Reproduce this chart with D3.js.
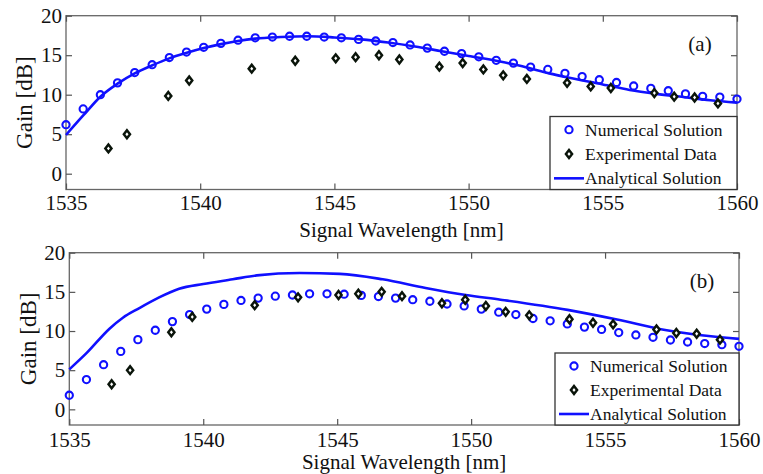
<!DOCTYPE html>
<html>
<head>
<meta charset="utf-8">
<script src="https://cdn.jsdelivr.net/npm/d3@7"></script>
<style>
  html, body { margin: 0; padding: 0; background: #fff; }
  svg { display: block; font-family: "Liberation Serif", "Times New Roman", serif; }
  .axis text { fill: #111; font-size: 21px; font-family: "Liberation Serif", "Times New Roman", serif; }
  .axis line { stroke: #555; stroke-width: 1.2; }
  .axis path { display: none; }
</style>
</head>
<body>
<svg id="chart" width="763" height="474"></svg>
<script>
"use strict";

// ── Data ────────────────────────────────────────────────────────────────────
const xTicks = [1535, 1540, 1545, 1550, 1555, 1560];
const yTicks = [0, 5, 10, 15, 20];

// numerical solution sample wavelengths (shared by both panels)
const numWavelength = [1535, 1535.64, 1536.28, 1536.92, 1537.56, 1538.21, 1538.85, 1539.49,
  1540.13, 1540.77, 1541.41, 1542.05, 1542.69, 1543.33, 1543.97, 1544.62, 1545.26, 1545.90,
  1546.54, 1547.18, 1547.82, 1548.46, 1549.10, 1549.74, 1550.38, 1551.03, 1551.67, 1552.31,
  1552.95, 1553.59, 1554.23, 1554.87, 1555.51, 1556.15, 1556.79, 1557.44, 1558.08, 1558.72,
  1559.36, 1560];
const numGainA = [6.2, 8.2, 10.0, 11.5, 12.8, 13.8, 14.7, 15.4, 16.0, 16.5, 16.9, 17.2, 17.3,
  17.4, 17.4, 17.3, 17.2, 17.0, 16.8, 16.6, 16.3, 15.9, 15.5, 15.2, 14.8, 14.35, 14.0, 13.5,
  13.2, 12.7, 12.3, 11.9, 11.55, 11.1, 10.8, 10.5, 10.1, 9.8, 9.7, 9.45];
const numGainB = [1.8, 3.8, 5.7, 7.4, 8.9, 10.1, 11.2, 12.1, 12.8, 13.4, 13.9, 14.2, 14.45,
  14.6, 14.75, 14.75, 14.7, 14.55, 14.4, 14.2, 14.0, 13.8, 13.45, 13.2, 12.8, 12.4, 12.1, 11.6,
  11.3, 10.9, 10.5, 10.2, 9.8, 9.5, 9.2, 8.85, 8.6, 8.4, 8.25, 8.05];

// experimental data
const expWavelength = [1536.58, 1537.27, 1538.81, 1539.59, 1541.92, 1543.54, 1545.05, 1545.79,
  1546.66, 1547.42, 1548.91, 1549.78, 1550.55, 1551.29, 1552.17, 1553.67, 1554.55, 1555.3,
  1556.92, 1557.66, 1558.42, 1559.29];
const expGain = [3.2, 5.0, 9.85, 11.8, 13.3, 14.3, 14.6, 14.75, 15.0, 14.45, 13.55, 14.0, 13.2,
  12.45, 12.0, 11.5, 11.05, 10.85, 10.2, 9.75, 9.65, 8.9];

// analytical solution
const anaWavelengthA = [1535, 1535.65, 1536.28, 1536.92, 1537.56, 1538.2, 1538.85, 1539.5,
  1540.13, 1540.77, 1541.4, 1542.05, 1543, 1544, 1545, 1546, 1547, 1548, 1549, 1550, 1551.17,
  1552, 1553, 1553.65, 1555, 1556, 1557, 1558, 1559, 1560];
const anaGainA = [4.9, 7.4, 9.75, 11.4, 12.7, 13.7, 14.6, 15.3, 15.9, 16.4, 16.8, 17.1, 17.3,
  17.4, 17.25, 17.0, 16.6, 16.1, 15.5, 14.9, 14.2, 13.6, 12.7, 12.2, 11.3, 10.6, 10.1, 9.7,
  9.3, 9.0];
const anaWavelengthB = [1535, 1535.65, 1536.5, 1537, 1537.6, 1538.3, 1539.1, 1540, 1541.1,
  1542, 1543.6, 1545.1, 1546.7, 1548.3, 1549.8, 1551.1, 1553.6, 1555.4, 1557.3, 1558.5, 1560];
const anaGainB = [5.1, 7.2, 10.3, 11.7, 12.9, 14.2, 15.4, 16.0, 16.6, 17.1, 17.4, 17.3, 16.6,
  15.5, 14.6, 14.0, 12.7, 11.5, 10.1, 9.5, 9.0];

const legendLabels = ["Numerical Solution", "Experimental Data", "Analytical Solution"];

const BLUE = "#1010ff";
const SERIF = "'Liberation Serif', 'Times New Roman', serif";

const svg = d3.select("#chart");

// ── Panel ────────────────────────────────────────────────────────────────────
function drawPanel(opt) {
  const { left, right, top, bottom } = opt;
  const W = right - left, H = bottom - top;

  const x = d3.scaleLinear().domain([1535, 1560]).range([0, W]);
  const y = d3.scaleLinear().domain([-2, 20]).range([H, 0]);

  const g = svg.append("g").attr("transform", `translate(${left},${top})`);

  // box
  g.append("rect")
    .attr("width", W).attr("height", H)
    .attr("fill", "none").attr("stroke", "#666").attr("stroke-width", 1.3);

  // axes, ticks pointing inward
  g.append("g").attr("class", "axis").attr("transform", `translate(0,${H})`)
    .call(d3.axisBottom(x).tickValues(xTicks).tickSize(-6).tickPadding(opt.xPad).tickFormat(d3.format("d")))
    .attr("font-family", SERIF);
  g.append("g").attr("class", "axis")
    .call(d3.axisTop(x).tickValues(xTicks).tickSize(-6).tickFormat(""));
  g.append("g").attr("class", "axis")
    .call(d3.axisLeft(y).tickValues(yTicks).tickSize(-6).tickPadding(4))
    .attr("font-family", SERIF);
  g.append("g").attr("class", "axis").attr("transform", `translate(${W},0)`)
    .call(d3.axisRight(y).tickValues(yTicks).tickSize(-6).tickFormat(""));

  // analytical line
  const line = d3.line().x(d => x(d[0])).y(d => y(d[1])).curve(d3.curveMonotoneX);
  g.append("path")
    .datum(d3.zip(opt.anaX, opt.anaY))
    .attr("d", line)
    .attr("fill", "none").attr("stroke", BLUE).attr("stroke-width", 2.6);

  // numerical circles
  g.selectAll(".num").data(d3.zip(opt.numX, opt.numY)).enter().append("circle")
    .attr("class", "num")
    .attr("cx", d => x(d[0])).attr("cy", d => y(d[1])).attr("r", 3.6)
    .attr("fill", "none").attr("stroke", BLUE).attr("stroke-width", 2.1);

  // experimental diamonds
  const diamond = d3.symbol().type(d3.symbolDiamond).size(18);
  g.selectAll(".exp").data(d3.zip(expWavelength, expGain)).enter().append("path")
    .attr("class", "exp")
    .attr("d", diamond)
    .attr("transform", d => `translate(${x(d[0])},${y(d[1])}) scale(1.35,1)`)
    .attr("fill", "#fff").attr("stroke", "#0a140a").attr("stroke-width", 2);

  // axis labels
  g.append("text")
    .attr("x", W / 2).attr("y", H + opt.xLabelY)
    .attr("text-anchor", "middle").attr("font-size", 21).attr("fill", "#111")
    .text("Signal Wavelength [nm]");
  g.append("text")
    .attr("transform", "rotate(-90)")
    .attr("x", -H / 2).attr("y", -left + opt.yLabelX)
    .attr("text-anchor", "middle").attr("font-size", 23).attr("fill", "#111")
    .text("Gain [dB]");

  // panel tag
  g.append("text")
    .attr("x", W - 37).attr("y", 35)
    .attr("text-anchor", "middle").attr("font-size", 21).attr("fill", "#111")
    .text(opt.tag);

  // legend
  const lg = g.append("g").attr("transform", `translate(${W - opt.legW},${H - opt.legH})`);
  lg.append("rect")
    .attr("width", opt.legW).attr("height", opt.legH)
    .attr("fill", "#fff").attr("stroke", "#333").attr("stroke-width", 1.3);
  const rowH = opt.legH / 3;
  legendLabels.forEach((lab, i) => {
    const cy = rowH * (i + 0.5) + 1;
    if (i === 0) {
      lg.append("circle").attr("cx", 19).attr("cy", cy).attr("r", 3.6)
        .attr("fill", "none").attr("stroke", BLUE).attr("stroke-width", 2.1);
    } else if (i === 1) {
      lg.append("path").attr("d", diamond)
        .attr("transform", `translate(19,${cy}) scale(1.35,1)`)
        .attr("fill", "#fff").attr("stroke", "#0a140a").attr("stroke-width", 2);
    } else {
      lg.append("line").attr("x1", 4).attr("x2", 34).attr("y1", cy).attr("y2", cy)
        .attr("stroke", BLUE).attr("stroke-width", 2.6);
    }
    lg.append("text")
      .attr("x", 35).attr("y", cy).attr("dy", "0.34em")
      .attr("font-size", 17.5).attr("fill", "#111")
      .text(lab);
  });
}

drawPanel({
  left: 66, right: 737, top: 15.7, bottom: 189.5,
  numX: numWavelength, numY: numGainA,
  anaX: anaWavelengthA, anaY: anaGainA,
  tag: "(a)", legW: 187, legH: 73, yLabelX: 32, xPad: 6, xLabelY: 48
});

drawPanel({
  left: 69.3, right: 739, top: 252.7, bottom: 425,
  numX: numWavelength, numY: numGainB,
  anaX: anaWavelengthB, anaY: anaGainB,
  tag: "(b)", legW: 184, legH: 72, yLabelX: 36, xPad: 7, xLabelY: 44
});
</script>
</body>
</html>
